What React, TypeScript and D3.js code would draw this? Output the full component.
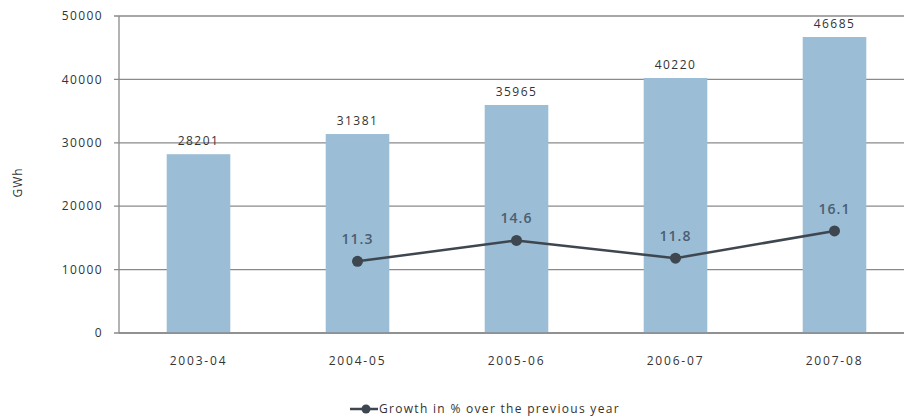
import React from "react";
import * as d3 from "d3";

const years = ["2003-04", "2004-05", "2005-06", "2006-07", "2007-08"];
const generation = [28201, 31381, 35965, 40220, 46685];
const growthYears = ["2004-05", "2005-06", "2006-07", "2007-08"];
const growth = [11.3, 14.6, 11.8, 16.1];
const yTicks = [0, 10000, 20000, 30000, 40000, 50000];

const W = 904, H = 419;
const M = { left: 119, right: -10, top: 16, bottom: 86 };

export default function App() {
  const x = d3.scaleBand<string>().domain(years).range([M.left, W - M.right]).paddingInner(0.6).paddingOuter(0.3);
  const y = d3.scaleLinear().domain([0, 50000]).range([H - M.bottom, M.top]);
  const cx = (d: string) => (x(d) as number) + x.bandwidth() / 2;
  const pts = growthYears.map((d, i) => [cx(d), y(growth[i] * 1000)] as [number, number]);
  const line = d3.line();
  const font = "'Open Sans', 'Liberation Sans', sans-serif";
  const ls = 1.4;
  return (
    <svg width={W} height={H} style={{ position: "absolute", left: 0, top: 0, background: "#fff" }} fontFamily={font}>
      {yTicks.map(t => (
        <g key={t}>
          <line x1={M.left - 5} x2={W} y1={y(t)} y2={y(t)} stroke="#8a8a8a" strokeWidth={1.3} />
          <text x={103} y={y(t)} dy="0.35em" textAnchor="end" fontSize={12} letterSpacing={ls} fill="#333">{t}</text>
        </g>
      ))}
      <line x1={M.left} x2={M.left} y1={y(50000)} y2={y(0)} stroke="#8a8a8a" strokeWidth={1.3} />
      {years.map((d, i) => (
        <g key={d}>
          <rect x={x(d)} y={y(generation[i])} width={x.bandwidth()} height={y(0) - y(generation[i])} fill="#9bbdd5" />
          <text x={cx(d)} y={y(generation[i]) - 9} textAnchor="middle" fontSize={12} letterSpacing={ls} fill="#333">{generation[i]}</text>
          <text x={cx(d)} y={365} textAnchor="middle" fontSize={12} letterSpacing={1.8} fill="#333">{d}</text>
        </g>
      ))}
      <line x1={M.left} x2={W} y1={y(0)} y2={y(0)} stroke="#8a8a8a" strokeWidth={1.5} />
      <path d={line(pts) || ""} fill="none" stroke="#3e4650" strokeWidth={2.5} />
      {pts.map((p, i) => (
        <g key={i}>
          <circle cx={p[0]} cy={p[1]} r={5.5} fill="#3e4650" />
          <text x={p[0]} y={p[1] - 17} textAnchor="middle" fontSize={14} fontWeight={600} letterSpacing={1} fill="#4b5e72">{growth[i]}</text>
        </g>
      ))}
      <text transform={`translate(22,${(y(0) + y(50000)) / 2 + 8}) rotate(-90)`} textAnchor="middle" fontSize={12} letterSpacing={1} fill="#333">GWh</text>
      <g>
        <line x1={350} x2={378} y1={409} y2={409} stroke="#3e4650" strokeWidth={2.5} />
        <circle cx={366} cy={409} r={4.5} fill="#3e4650" />
        <text x={379} y={409} dy="0.35em" fontSize={12} letterSpacing={1.3} fill="#333">Growth in % over the previous year</text>
      </g>
    </svg>
  );
}
